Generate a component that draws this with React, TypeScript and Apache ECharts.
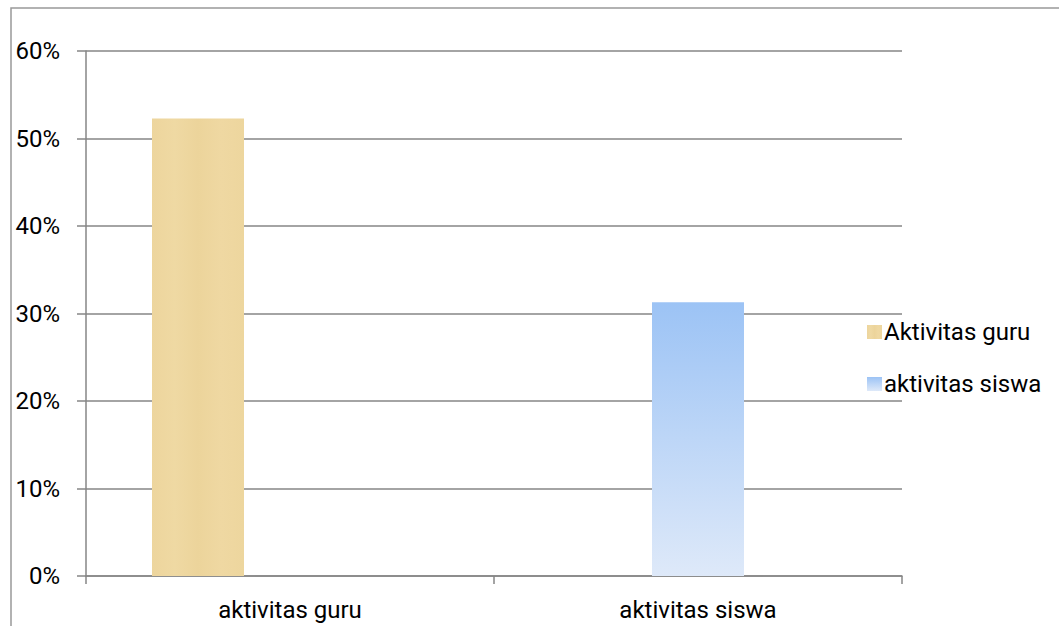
import React, { useEffect, useRef } from "react";
import * as echarts from "echarts";

const categories = ["aktivitas guru", "aktivitas siswa"];
const guruValues = [52.3, "-"];
const siswaValues = ["-", 31.3];
// empty third slot keeps the grouping layout of the original workbook
const spareValues = ["-", "-"];
const yTicks = { min: 0, max: 60, interval: 10 };

const FONT = "Roboto";

export default function App() {
  const ref = useRef<HTMLDivElement>(null);

  useEffect(() => {
    document.body.style.margin = "0";
    const chart = echarts.init(ref.current!, null, { renderer: "svg" });

    const tan = new echarts.graphic.LinearGradient(0, 0, 1, 0, [
      { offset: 0, color: "#EDD59D" },
      { offset: 0.25, color: "#EFD9A3" },
      { offset: 0.5, color: "#ECD49B" },
      { offset: 0.75, color: "#EFD8A2" },
      { offset: 1, color: "#EDD69E" },
    ]);
    const blue = new echarts.graphic.LinearGradient(0, 0, 0, 1, [
      { offset: 0, color: "#9CC3F5" },
      { offset: 1, color: "#DEE9F9" },
    ]);

    chart.setOption({
      animation: false,
      textStyle: { fontFamily: FONT },
      graphic: [
        {
          type: "rect",
          shape: { x: 11, y: 8, width: 1100, height: 700 },
          style: { fill: "none", stroke: "#999999", lineWidth: 1.5 },
          silent: true,
        },
      ],
      grid: { left: 86, right: 157, top: 51, bottom: 50, containLabel: false },
      legend: {
        orient: "vertical",
        left: 862,
        top: 313,
        itemWidth: 15,
        itemHeight: 14,
        itemGap: 24,
        icon: "rect",
        data: ["Aktivitas guru", "aktivitas siswa"],
        textStyle: { fontFamily: FONT, fontSize: 24, color: "#000", lineHeight: 28, padding: [0, 0, 0, -3] },
      },
      xAxis: {
        type: "category",
        data: categories,
        axisLine: { lineStyle: { color: "#868686", width: 1.5 } },
        axisTick: { show: true, length: 8, alignWithLabel: false, lineStyle: { color: "#868686", width: 1.5 } },
        axisLabel: { fontFamily: FONT, fontSize: 24, color: "#000", margin: 22 },
      },
      yAxis: {
        type: "value",
        min: yTicks.min,
        max: yTicks.max,
        interval: yTicks.interval,
        axisLine: { show: true, lineStyle: { color: "#868686", width: 1.5 } },
        axisTick: { show: true, length: 9, lineStyle: { color: "#868686", width: 1.5 } },
        axisLabel: { fontFamily: FONT, fontSize: 24, color: "#000", margin: 26, formatter: "{value}%" },
        splitLine: { lineStyle: { color: "#868686", width: 1.5 } },
      },
      series: [
        {
          name: "Aktivitas guru",
          type: "bar",
          data: guruValues,
          barWidth: 92,
          barGap: "0%",
          itemStyle: { color: tan },
        },
        {
          name: "aktivitas siswa",
          type: "bar",
          data: siswaValues,
          barWidth: 92,
          barGap: "0%",
          itemStyle: { color: blue },
        },
        {
          name: "spare",
          type: "bar",
          data: spareValues,
          barWidth: 92,
          barGap: "0%",
        },
      ],
    });

    return () => chart.dispose();
  }, []);

  return <div ref={ref} style={{ width: 1059, height: 626 }} />;
}
